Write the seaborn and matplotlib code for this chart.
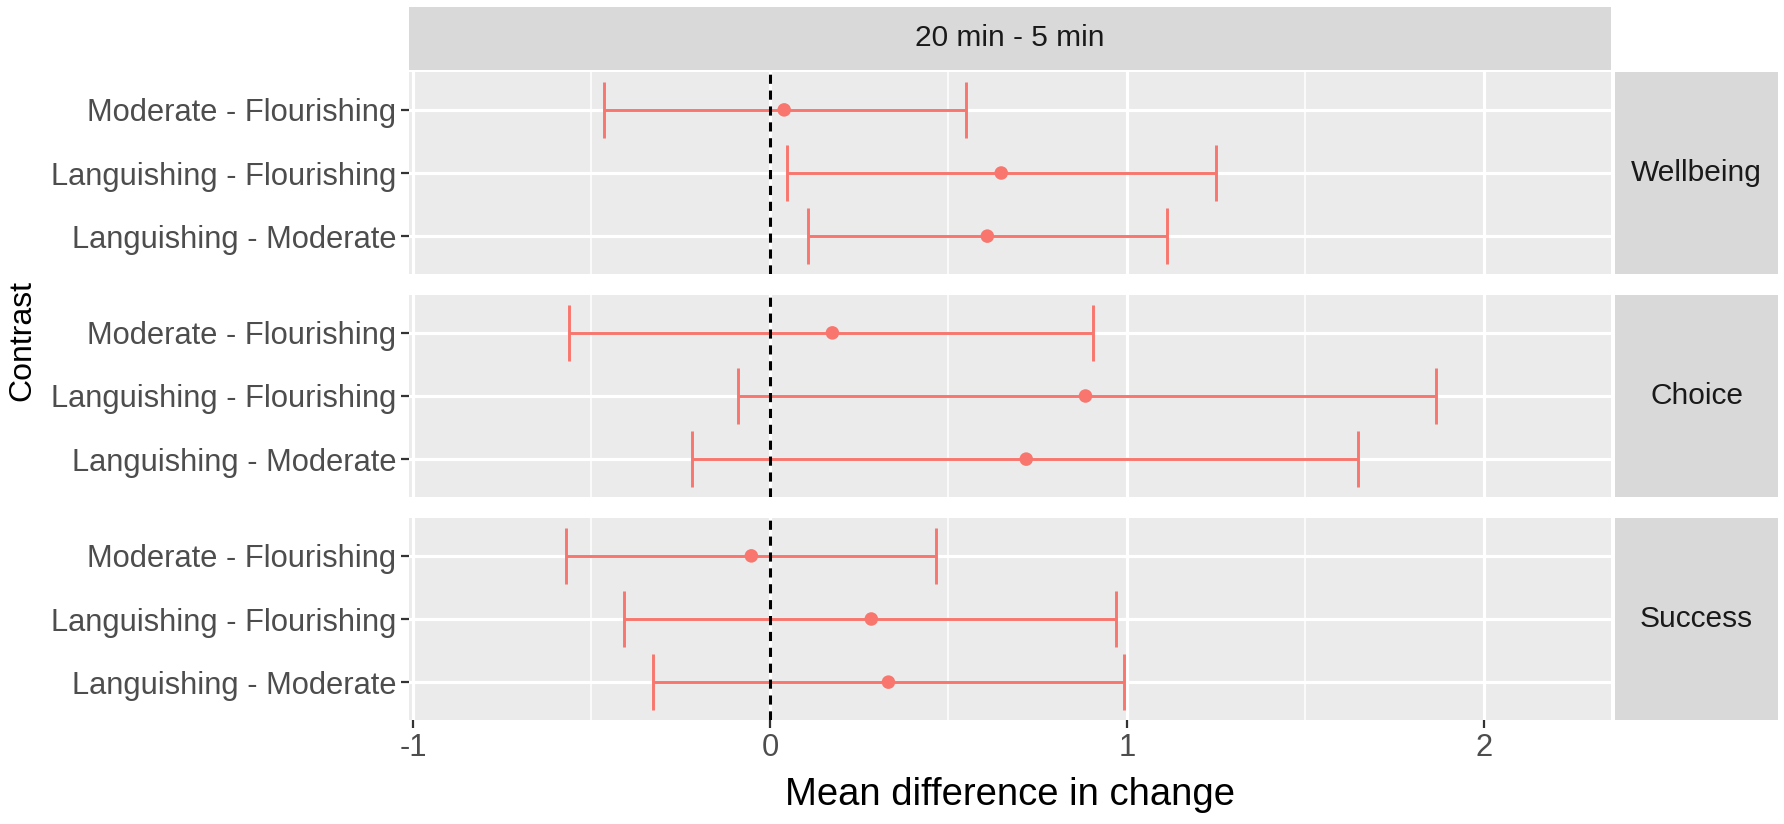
import numpy as np
import pandas as pd
import seaborn as sns
from matplotlib import pyplot as plt

CONTRASTS = ["Moderate - Flourishing", "Languishing - Flourishing", "Languishing - Moderate"]
OUTCOMES = ["Wellbeing", "Choice", "Success"]
STRIP_TOP = "20 min - 5 min"

# mean difference and CI bounds (order follows CONTRASTS)
wellbeing_mean = [0.040, 0.648, 0.609]
wellbeing_lo = [-0.465, 0.048, 0.107]
wellbeing_hi = [0.548, 1.249, 1.111]

choice_mean = [0.175, 0.884, 0.718]
choice_lo = [-0.563, -0.090, -0.218]
choice_hi = [0.904, 1.867, 1.648]

success_mean = [-0.052, 0.284, 0.332]
success_lo = [-0.572, -0.408, -0.328]
success_hi = [0.465, 0.969, 0.993]

X_TICKS = [-1, 0, 1, 2]

RED = "#F8766D"
PANEL_BG = "#EBEBEB"
STRIP_BG = "#D9D9D9"

W, H = 1784, 824


def box(left, top, right, bottom):
    return [left / W, 1 - bottom / H, (right - left) / W, (bottom - top) / H]


def build_df():
    frames = []
    for name, m, lo, hi in [
        ("Wellbeing", wellbeing_mean, wellbeing_lo, wellbeing_hi),
        ("Choice", choice_mean, choice_lo, choice_hi),
        ("Success", success_mean, success_lo, success_hi),
    ]:
        frames.append(pd.DataFrame({
            "outcome": name,
            "contrast": CONTRASTS,
            "pos": np.arange(len(CONTRASTS)),
            "mean": m,
            "lo": lo,
            "hi": hi,
        }))
    return pd.concat(frames, ignore_index=True)


def strip(fig, rect, label):
    ax = fig.add_axes(rect)
    ax.set_facecolor(STRIP_BG)
    ax.set_xticks([])
    ax.set_yticks([])
    for s in ax.spines.values():
        s.set_visible(False)
    ax.text(0.5, 0.5, label, ha="center", va="center", fontsize=21.5,
            color="#1A1A1A", transform=ax.transAxes)
    return ax


def main():
    sns.set_theme(style="darkgrid")
    plt.rcParams["font.family"] = ["Liberation Sans", "DejaVu Sans"]
    plt.rcParams["axes.unicode_minus"] = False

    df = build_df()
    fig = plt.figure(figsize=(W / 100, H / 100), dpi=100)

    left, right = 409, 1611
    tops = [72, 295, 518]
    bottoms = [274, 497, 720]

    strip(fig, box(left, 7, right, 70), STRIP_TOP)

    for i, outcome in enumerate(OUTCOMES):
        sub = df[df["outcome"] == outcome]
        ax = fig.add_axes(box(left, tops[i], right, bottoms[i]))
        ax.set_facecolor(PANEL_BG)

        ax.errorbar(
            x=sub["mean"], y=sub["pos"],
            xerr=[sub["mean"] - sub["lo"], sub["hi"] - sub["mean"]],
            fmt="none", ecolor=RED, elinewidth=2.1, capsize=20, capthick=2.1,
            zorder=3,
        )
        sns.scatterplot(data=sub, x="mean", y="pos", ax=ax, color=RED,
                        s=95, edgecolor="none", zorder=4, legend=False)
        ax.axvline(0, color="black", lw=2.2, ls=(0, (3, 2.2)), zorder=5)

        ax.set_xlim(-1.011, 2.356)
        ax.set_ylim(2.6, -0.6)
        ax.set_xticks(X_TICKS)
        ax.set_xticks([-0.5, 0.5, 1.5], minor=True)
        ax.set_yticks(range(len(CONTRASTS)))
        ax.set_yticklabels(CONTRASTS)
        ax.grid(which="major", color="white", lw=2.3)
        ax.grid(which="minor", axis="x", color="white", lw=1.1)
        ax.set_axisbelow(True)
        for s in ax.spines.values():
            s.set_visible(False)
        ax.set_xlabel("")
        ax.set_ylabel("")
        ax.tick_params(axis="y", which="major", length=6, width=1.6,
                       color="#333333", labelsize=22.2, labelcolor="#4D4D4D",
                       pad=3, left=True)
        ax.tick_params(axis="x", which="minor", length=0)
        if i == len(OUTCOMES) - 1:
            ax.tick_params(axis="x", which="major", length=6, width=1.6,
                           color="#333333", labelsize=22.2,
                           labelcolor="#4D4D4D", pad=3, bottom=True)
        else:
            ax.tick_params(axis="x", which="major", length=0,
                           labelbottom=False)

        strip(fig, box(1615, tops[i], 1778, bottoms[i]), outcome)

    fig.text((left + right) / 2 / W, 1 - 795 / H, "Mean difference in change",
             ha="center", va="center", fontsize=27.5, color="black")
    fig.text(22 / W, 1 - 340 / H, "Contrast", rotation=90,
             ha="center", va="center", fontsize=23, color="black")

    fig.savefig("out.png", dpi=100, facecolor="white")


if __name__ == "__main__":
    main()
